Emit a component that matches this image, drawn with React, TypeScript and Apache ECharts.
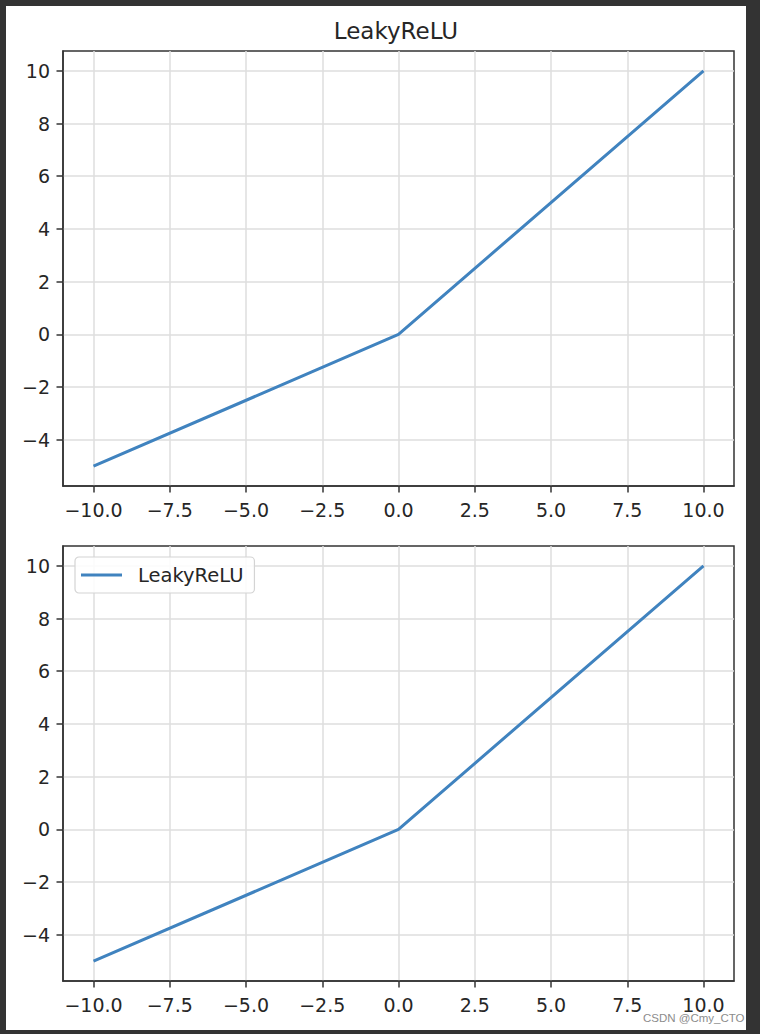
import React, { useEffect, useRef } from "react";
import * as echarts from "echarts";

const xValues = [-10, 0, 10];
const yValues = [-5, 0, 10];
const xTicks = [-10, -7.5, -5, -2.5, 0, 2.5, 5, 7.5, 10];
const yTicks = [-4, -2, 0, 2, 4, 6, 8, 10];
const seriesName = "LeakyReLU";
const titleText = "LeakyReLU";
const watermark = "CSDN @Cmy_CTO";

const FONT = "DejaVu Sans";
const LINE_COLOR = "#4083bf";
const SPINE = "#333333";
const GRIDC = "#dedede";
const TEXTC = "#262626";

const fmtX = (v: number) => {
  const s = Math.abs(v).toFixed(1);
  return v < 0 ? "\u2212" + s : s;
};
const fmtY = (v: number) => {
  const s = String(Math.abs(Math.round(v)));
  return v < 0 ? "\u2212" + s : s;
};

export default function App() {
  const ref = useRef<HTMLDivElement>(null);
  useEffect(() => {
    if (!ref.current) return;
    const chart = echarts.init(ref.current, undefined, { renderer: "svg" });
    const points = xValues.map((x, i) => [x, yValues[i]]);
    const mkX = (gi: number) => ({
      type: "value",
      gridIndex: gi,
      min: -11,
      max: 11,
      axisLine: { show: true, onZero: false, lineStyle: { color: SPINE, width: 1.5 } },
      axisTick: { show: true, length: 6.5, customValues: xTicks, lineStyle: { color: SPINE, width: 1.5 } },
      axisLabel: {
        customValues: xTicks,
        formatter: fmtX,
        margin: 14,
        color: TEXTC,
        fontFamily: FONT,
        fontSize: 19,
      },
      splitLine: { show: true, lineStyle: { color: GRIDC, width: 1.5 } },
    });
    const mkY = (gi: number) => ({
      type: "value",
      gridIndex: gi,
      min: -5.75,
      max: 10.75,
      axisLine: { show: true, onZero: false, lineStyle: { color: SPINE, width: 1.5 } },
      axisTick: { show: true, length: 6.5, customValues: yTicks, lineStyle: { color: SPINE, width: 1.5 } },
      axisLabel: {
        customValues: yTicks,
        formatter: fmtY,
        margin: 13,
        color: TEXTC,
        fontFamily: FONT,
        fontSize: 19,
      },
      splitLine: { show: true, lineStyle: { color: GRIDC, width: 1.5 } },
    });
    chart.setOption({
      animation: false,
      backgroundColor: "#333333",
      graphic: [
        {
          type: "rect",
          z: -10,
          shape: { x: 6, y: 6, width: 740, height: 1024 },
          style: { fill: "#ffffff" },
          silent: true,
        },
        {
          type: "text",
          style: {
            text: titleText,
            x: 396,
            y: 31,
            align: "center",
            verticalAlign: "middle",
            fontFamily: FONT,
            fontSize: 23,
            fill: TEXTC,
          },
        },
        {
          type: "text",
          z: 100,
          style: {
            text: watermark,
            x: 643,
            y: 1018,
            align: "left",
            verticalAlign: "middle",
            fontFamily: "Liberation Sans",
            fontSize: 11.5,
            fill: "#8c8c8c",
          },
        },
      ],
      grid: [
        { left: 63, top: 51, width: 671, height: 435, show: true, borderColor: SPINE, borderWidth: 1.5, backgroundColor: "transparent" },
        { left: 63, top: 546, width: 671, height: 435, show: true, borderColor: SPINE, borderWidth: 1.5, backgroundColor: "transparent" },
      ],
      xAxis: [mkX(0), mkX(1)],
      yAxis: [mkY(0), mkY(1)],
      legend: {
        left: 75,
        top: 557,
        orient: "vertical",
        padding: [8, 11, 8, 6],
        backgroundColor: "rgba(255,255,255,0.85)",
        borderColor: "#d4d4d4",
        borderWidth: 1.2,
        borderRadius: 4,
        itemWidth: 41,
        itemHeight: 3,
        data: [{ name: seriesName, icon: "rect" }],
        textStyle: { fontFamily: FONT, fontSize: 19.5, color: TEXTC, padding: [0, 0, 0, 11] },
      },
      series: [
        {
          type: "line",
          name: "top",
          xAxisIndex: 0,
          yAxisIndex: 0,
          data: points,
          showSymbol: false,
          symbol: "none",
          lineStyle: { color: LINE_COLOR, width: 3 },
          itemStyle: { color: LINE_COLOR },
        },
        {
          type: "line",
          name: seriesName,
          xAxisIndex: 1,
          yAxisIndex: 1,
          data: points,
          showSymbol: false,
          symbol: "none",
          lineStyle: { color: LINE_COLOR, width: 3 },
          itemStyle: { color: LINE_COLOR },
        },
      ],
    });
    return () => chart.dispose();
  }, []);
  return (
    <div
      ref={ref}
      style={{ position: "absolute", left: 0, top: 0, width: 760, height: 1034 }}
    />
  );
}
